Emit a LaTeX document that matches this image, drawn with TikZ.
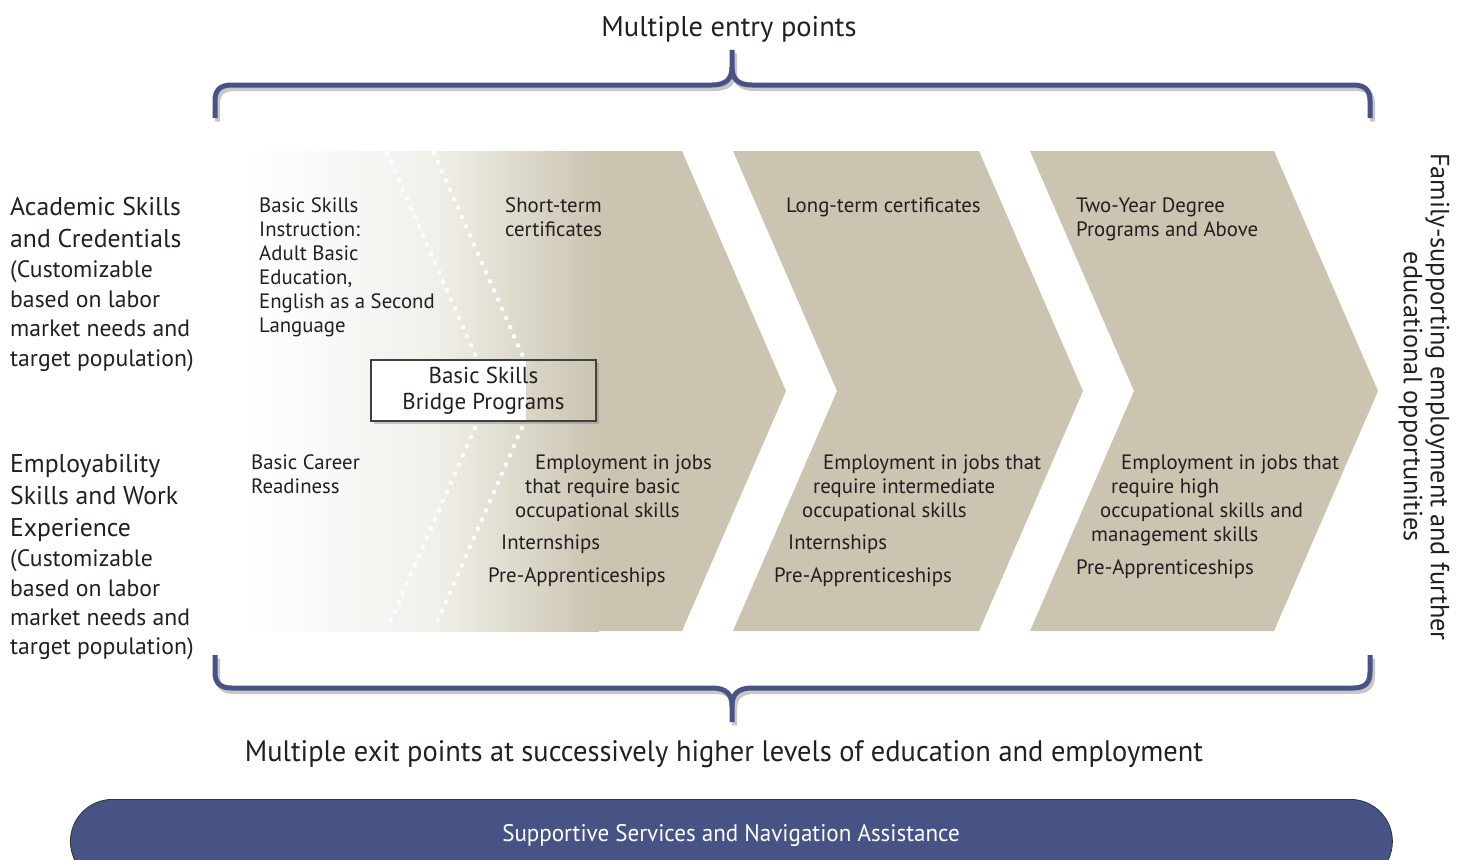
\documentclass[tikz,border=0pt]{standalone}
\usepackage{fontspec}
\setmainfont{PT Sans}
\newfontfamily\narrowfont[FakeStretch=0.96]{PT Sans}
\usetikzlibrary{shadows}
\definecolor{sand}{RGB}{202,196,176}
\definecolor{navy}{RGB}{71,83,133}
\definecolor{ink}{RGB}{35,31,32}
\begin{document}
\begin{tikzpicture}[x=1pt,y=-1pt,
  txt/.style={anchor=west,inner sep=0pt,text depth=0pt,text=ink},
  sm/.style={txt,font=\fontsize{20.8}{24}\selectfont,text height=14pt},
  big/.style={txt,font=\fontsize{25.7}{32}\selectfont,text height=17.5pt},
  mid/.style={txt,font=\fontsize{23.7}{30}\selectfont,text height=16pt},
  brace/.style={draw=navy,line width=5pt,line cap=butt,line join=round},
  braceshadow/.style={draw=black!22,line width=5pt,line cap=butt,line join=round,
    transform canvas={shift={(2.5pt,-3.5pt)}}},
  dots/.style={white,line width=4.5pt,line cap=round,dash pattern=on 0pt off 10pt},
]
\useasboundingbox (0,0) rectangle (1463,859);
\begin{scope}
\clip (0,0) rectangle (1463,859);

% first stage: fades in from white
\fill[sand] (598,151) -- (682,151) -- (786,391) -- (682,631) -- (598,631) -- cycle;
\shade[left color=white,right color=sand!25] (244,151) rectangle (432,631);
\shade[left color=sand!25,right color=sand] (431.5,151) rectangle (599,631);
% second and third stages
\fill[sand] (733,151) -- (979,151) -- (1083,391) -- (979,631) -- (733,631) -- (837,391) -- cycle;
\fill[sand] (1030,151) -- (1274,151) -- (1378,391) -- (1274,631) -- (1030,631) -- (1134,391) -- cycle;

% dotted boundaries of the bridge zone
\draw[dots] (387,153) -- (491,391) -- (387,629);
\draw[dots] (434,153) -- (538,391) -- (434,629);

% braces: entry points (top) and exit points (bottom)
\foreach \st in {braceshadow,brace}{
  \draw[\st] (215,118) -- (215,101) .. controls (215,90) and (220,85) .. (232,85)
     -- (712,85) .. controls (726,85) and (732,79) .. (732,67) -- (732,50);
  \draw[\st] (732,67) .. controls (732,79) and (738,85) .. (752,85)
     -- (1353,85) .. controls (1365,85) and (1370,90) .. (1370,101) -- (1370,118);
  \draw[\st] (215,655) -- (215,672) .. controls (215,683) and (220,688) .. (232,688)
     -- (712,688) .. controls (726,688) and (732,694) .. (732,706) -- (732,722);
  \draw[\st] (732,706) .. controls (732,694) and (738,688) .. (752,688)
     -- (1353,688) .. controls (1365,688) and (1370,683) .. (1370,672) -- (1370,655);
}

% bridge box
\node[draw=black!75,line width=1.3pt,fill=white,minimum width=225pt,minimum height=61pt,
  drop shadow={opacity=0.4,shadow xshift=3pt,shadow yshift=-3pt},
  align=center,font=\fontsize{23}{25.5}\selectfont,inner sep=0pt,text=ink,
  path picture={\shade[left color=white,right color=sand]
    ([xshift=-70pt]path picture bounding box.north east) rectangle (path picture bounding box.south east);}]
  (bridge) at (483.5,390.5) {Basic Skills\\Bridge Programs};

% stage texts
\foreach \px/\py/\t [count=\i] in {
 259/205/Basic Skills, 259/229/Instruction:, 259/253/Adult Basic, 259/277/{Education,},
 259/301/English as a Second, 259/325/Language,
 505/205/Short-term, 505/229/certificates, 786/205/Long-term certificates,
 1076/205/Two-Year Degree, 1076/229/Programs and Above,
 251/462/Basic Career, 251/486/Readiness,
 535/462/Employment in jobs, 525/486/that require basic, 515/510/occupational skills,
 501/542/Internships, 488/575/Pre-Apprenticeships,
 823/462/Employment in jobs that, 813/486/require intermediate, 802/510/occupational skills,
 788/542/Internships, 774/575/Pre-Apprenticeships,
 1121/462/Employment in jobs that, 1111/486/require high, 1100/510/occupational skills and,
 1091/534/management skills, 1076/567/Pre-Apprenticeships}
  \node[sm] (s\i) at (\px,\py) {\t};

% row headings
\foreach \py/\t [count=\i] in {207/Academic Skills, 239/and Credentials,
  464/Employability, 496/Skills and Work, 528/Experience}
  \node[big] (h\i) at (10,\py) {\t};
\foreach \py/\t [count=\i] in {269/{(Customizable}, 299/based on labor, 328/market needs and,
  358/{target population)}, 558/{(Customizable}, 588/based on labor, 617/market needs and,
  646/{target population)}}
  \node[mid] (m\i) at (10,\py) {\t};

% outcome on the right
\node[rotate=-90,align=center,font=\fontsize{26.3}{27}\selectfont,inner sep=0pt,text=ink]
  (side) at (1424,397) {Family-supporting employment and further\\educational opportunities};

% titles
\node[font=\fontsize{28.5}{30}\selectfont,inner sep=0pt,text=ink] (entry) at (729,29) {Multiple entry points};
\node[font=\narrowfont\fontsize{29.6}{32}\selectfont,inner sep=0pt,text=ink] (exit) at (724,754)
  {Multiple exit points at successively higher levels of education and employment};

% supportive services bar
\node[draw=black!80,line width=0.8pt,fill=navy,rounded corners=42pt,minimum width=1322pt,
  minimum height=84pt,anchor=north west,inner sep=0pt] (bar) at (70,799) {};
\node[font=\narrowfont\fontsize{24}{26}\selectfont,inner sep=0pt,text=white] (support) at (731,835)
  {Supportive Services and Navigation Assistance};
\end{scope}
\end{tikzpicture}
\end{document}
